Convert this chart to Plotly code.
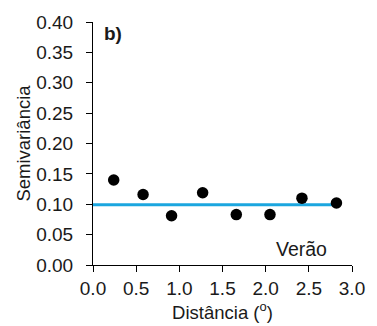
import plotly.graph_objects as go

# Experimental semivariogram points (lag distance in degrees, semivariance)
distancia = [0.24, 0.58, 0.91, 1.27, 1.66, 2.05, 2.42, 2.82]
semivariancia = [0.140, 0.116, 0.081, 0.119, 0.083, 0.083, 0.110, 0.102]

# Fitted pure-nugget model
modelo_x = [0.0, 2.77]
modelo_y = [0.099, 0.099]

x_ticks = [0.0, 0.5, 1.0, 1.5, 2.0, 2.5, 3.0]
y_ticks = [0.00, 0.05, 0.10, 0.15, 0.20, 0.25, 0.30, 0.35, 0.40]

FONT = "Liberation Sans, Arial, sans-serif"
INK = "#1a1a1a"

fig = go.Figure()
fig.add_trace(go.Scatter(
    x=modelo_x, y=modelo_y, mode="lines",
    line=dict(color="#1ba6df", width=3),
    showlegend=False, hoverinfo="skip",
))
fig.add_trace(go.Scatter(
    x=distancia, y=semivariancia, mode="markers",
    marker=dict(color="black", size=11.5),
    showlegend=False, cliponaxis=False,
))

fig.add_annotation(x=0.1, y=0.381, xref="x", yref="y", text="<b>b)</b>",
                   showarrow=False, xanchor="left", yanchor="middle",
                   font=dict(size=19, color=INK, family=FONT))
fig.add_annotation(x=2.41, y=0.027, xref="x", yref="y", text="Verão",
                   showarrow=False, xanchor="center", yanchor="middle",
                   font=dict(size=19.5, color=INK, family=FONT))

axis_common = dict(
    showgrid=False, zeroline=False, showline=True, linecolor="black",
    linewidth=1, ticks="outside", ticklen=6, tickwidth=1, tickcolor="black",
    tickfont=dict(size=19, color=INK, family=FONT),
)

fig.update_xaxes(
    range=[0, 3], tickvals=x_ticks,
    ticktext=[f"{v:.1f}" for v in x_ticks],
    title=dict(text="Distância (<sup>o</sup>)", standoff=2,
               font=dict(size=18.5, color=INK, family=FONT)),
    **axis_common,
)
fig.update_yaxes(
    range=[0, 0.4], tickvals=y_ticks,
    ticktext=[f"{v:.2f}" for v in y_ticks],
    ticklabelstandoff=9,
    title=dict(text="Semivariância", standoff=0,
               font=dict(size=18.5, color=INK, family=FONT)),
    **axis_common,
)

fig.update_layout(
    width=377, height=326,
    margin=dict(l=93, r=17, t=17, b=60),
    paper_bgcolor="white", plot_bgcolor="white",
    font=dict(family=FONT, color=INK),
)

fig.write_html("out.html")
